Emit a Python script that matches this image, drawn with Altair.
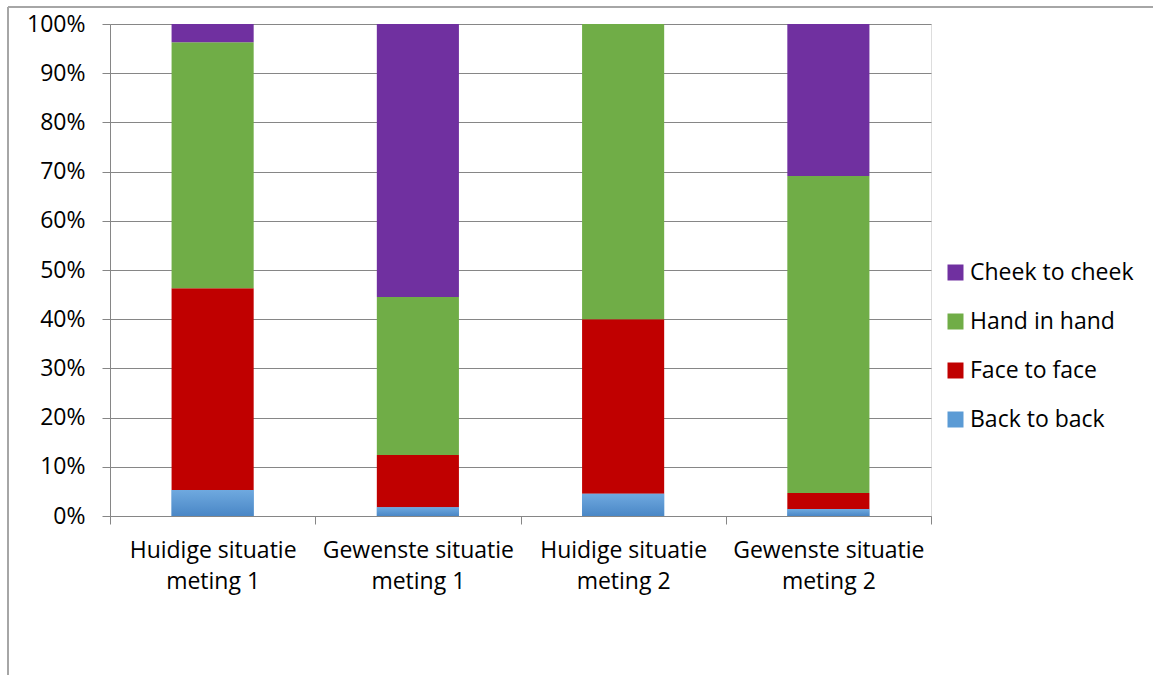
import altair as alt
import pandas as pd

# Survey results: share of each dance-hold preference per situation/measurement
categories = [
    "Huidige situatie\nmeting 1",
    "Gewenste situatie\nmeting 1",
    "Huidige situatie\nmeting 2",
    "Gewenste situatie\nmeting 2",
]
series = ["Cheek to cheek", "Hand in hand", "Face to face", "Back to back"]
back_to_back = [5.3, 1.8, 4.5, 1.4]
face_to_face = [41.0, 10.6, 35.5, 3.3]
hand_in_hand = [50.0, 32.1, 60.0, 64.4]
cheek_to_cheek = [3.7, 55.5, 0.0, 30.9]
colors = ["#7030a0", "#70ad47", "#c00000", "#5b9bd5"]

rows = []
for i, cat in enumerate(categories):
    for s, vals, order in [
        ("Back to back", back_to_back, 0),
        ("Face to face", face_to_face, 1),
        ("Hand in hand", hand_in_hand, 2),
        ("Cheek to cheek", cheek_to_cheek, 3),
    ]:
        rows.append({"cat": cat, "series": s, "value": vals[i] / 100, "order": order})
df = pd.DataFrame(rows)

FONT = "Open Sans"
FS = 23
GRID = "#868686"

x_enc = alt.X(
    "cat:N",
    sort=categories,
    title=None,
    scale=alt.Scale(paddingInner=0, paddingOuter=0),
    axis=alt.Axis(
        labelAngle=0,
        labelExpr="split(datum.label, '\\n')",
        labelFont=FONT,
        labelFontSize=FS,
        labelColor="#000000",
        labelLineHeight=31,
        labelPadding=15,
        labelBaseline="top",
        labelLimit=0,
        tickBand="extent",
        tickSize=8,
        tickColor=GRID,
        domainColor=GRID,
        grid=False,
    ),
)

y_scale = alt.Scale(domain=[0, 1], nice=False)
y_axis = alt.Axis(
    format=".0%",
    values=[i / 10 for i in range(11)],
    title=None,
    labelFont=FONT,
    labelFontSize=FS,
    labelColor="#000000",
    labelPadding=17,
    labelLimit=0,
    tickSize=8,
    tickColor=GRID,
    domainColor=GRID,
    gridColor=GRID,
    gridWidth=1,
)

bars = alt.Chart(df).mark_bar(width={"band": 0.4}).encode(
    x=x_enc,
    y=alt.Y("value:Q", stack="zero", scale=y_scale, axis=y_axis),
    color=alt.Color(
        "series:N",
        scale=alt.Scale(domain=series, range=colors),
        legend=alt.Legend(
            title=None,
            orient="none",
            legendX=834,
            legendY=237,
            symbolType="square",
            symbolSize=256,
            symbolStrokeWidth=0,
            labelFont=FONT,
            labelFontSize=FS,
            labelColor="#000000",
            labelOffset=3,
            labelLimit=0,
            rowPadding=25,
        ),
    ),
    order=alt.Order("order:Q", sort="ascending"),
)

# Bottom segment drawn again with its soft vertical gradient
back = alt.Chart(df).transform_filter(
    alt.datum.series == "Back to back"
).mark_bar(
    width={"band": 0.4},
    color=alt.Gradient(
        gradient="linear",
        stops=[
            alt.GradientStop(color="#6fa9df", offset=0),
            alt.GradientStop(color="#4a87c6", offset=1),
        ],
        x1=0, x2=0, y1=0, y2=1,
    ),
).encode(
    x=alt.X("cat:N", sort=categories),
    y=alt.Y("value:Q", scale=y_scale),
)

# Chart-area frame (top and left edges)
frame_data = alt.Data(values=[{"k": 1}])
frame_left = alt.Chart(frame_data).mark_rule(color="#a6a6a6", strokeWidth=2).encode(
    x=alt.value(-102), y=alt.value(-17), y2=alt.value(660)
)
frame_top = alt.Chart(frame_data).mark_rule(color="#a6a6a6", strokeWidth=2).encode(
    x=alt.value(-102), x2=alt.value(1060), y=alt.value(-17)
)

chart = alt.layer(bars, back, frame_left, frame_top).properties(
    width=821,
    height=492,
    autosize=alt.AutoSizeParams(type="none"),
    padding={"left": 110, "top": 24, "right": 222, "bottom": 159},
).configure_view(stroke=None).configure(background="#ffffff")

chart.save("out.html", embed_options={"renderer": "svg", "actions": False})
